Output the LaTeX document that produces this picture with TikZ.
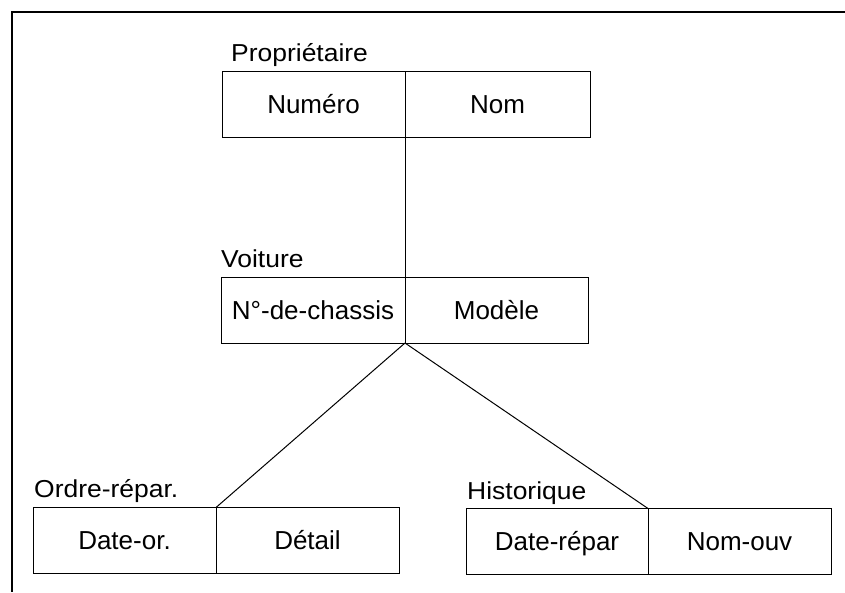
\documentclass[tikz,border=0pt]{standalone}
\usepackage{fontspec}
\setmainfont{Liberation Sans}
\begin{document}
\begin{tikzpicture}[x=1pt,y=-1pt,
  cell/.style={draw, line width=1pt, inner sep=0pt, outer sep=0pt,
    minimum height=66pt, text height=18.6pt, text depth=0pt,
    font=\fontsize{26}{30}\selectfont},
  rec/.style={anchor=base west, inner sep=0pt,
    font=\fontsize{24.5}{28}\selectfont},
  link/.style={line width=1pt}]
\useasboundingbox (0,0) rectangle (845,592);
% outer frame: top and left rules only
\draw[line width=2pt] (845,11.5) -- (11.5,11.5) -- (11.5,592);

% Propriétaire
\node[rec] (lprop) at (231,61.7) {\scalebox{1.08}[1]{Propriétaire}};
\node[cell, minimum width=183pt] (pnum) at (313.5,104.2) {Numéro};
\node[cell, minimum width=185pt] (pnom) at (497.5,104.2) {Nom};

% Voiture
\node[rec] (lvoit) at (221,267.5) {\scalebox{1.08}[1]{Voiture}};
\node[cell, minimum width=184pt] (vnum) at (313,310) {N°-de-chassis};
\node[cell, minimum width=183pt] (vmod) at (496.5,310) {Modèle};

% Ordre-répar.
\node[rec] (lordre) at (34,497.5) {\scalebox{1.08}[1]{Ordre-répar.}};
\node[cell, minimum width=183pt] (odate) at (124.5,540.5) {Date-or.};
\node[cell, minimum width=183pt] (odet) at (307.5,540.5) {Détail};

% Historique
\node[rec] (lhist) at (467,499) {\scalebox{1.08}[1]{Historique}};
\node[cell, minimum width=182pt] (hdate) at (557,541.5) {Date-répar};
\node[cell, minimum width=183pt] (hnom) at (739.5,541.5) {Nom-ouv};

% links between records
\draw[link] (pnum.south east) -- (vnum.north east);
\draw[link] (vnum.south east) -- (odate.north east);
\draw[link] (vnum.south east) -- (hdate.north east);
\end{tikzpicture}
\end{document}
